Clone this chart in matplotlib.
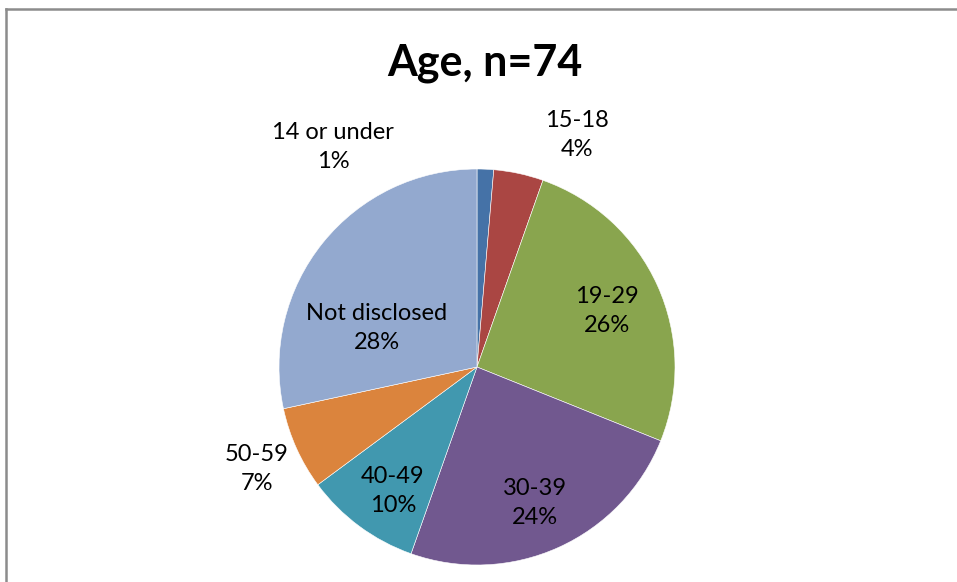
import matplotlib
matplotlib.use("Agg")
import matplotlib.pyplot as plt
from matplotlib.lines import Line2D

# ---- data ----
categories = ["14 or under", "15-18", "19-29", "30-39", "40-49", "50-59", "Not disclosed"]
counts = [1, 3, 19, 18, 7, 5, 21]
pct_labels = ["1%", "4%", "26%", "24%", "10%", "7%", "28%"]
title = "Age, n=74"

# ---- style / layout ----
colors = ["#4572A7", "#AA4643", "#89A54E", "#71588F", "#4198AF", "#DB843D", "#93A9CF"]
# label centres in units of pie radius (layout, not data)
label_pos = [(-0.727, 1.111), (0.505, 1.172), (0.657, 0.283), (0.293, -0.687),
             (-0.424, -0.626), (-1.111, -0.515), (-0.505, 0.197)]

plt.rcParams['font.family'] = ['Lato', 'DejaVu Sans']

W, H = 957, 582
fig = plt.figure(figsize=(W / 100, H / 100), dpi=100)
fig.patch.set_facecolor("white")

cx, cy, r = 477, 367, 198
ax = fig.add_axes([(cx - r) / W, (H - cy - r) / H, 2 * r / W, 2 * r / H])
ax.pie(counts, colors=colors, startangle=90, counterclock=False, radius=1,
       wedgeprops=dict(edgecolor="white", linewidth=0.4))
ax.set_xlim(-1, 1)
ax.set_ylim(-1, 1)
ax.set_aspect("equal")
ax.axis("off")

for cat, pct, (lx, ly) in zip(categories, pct_labels, label_pos):
    ax.text(lx, ly, f"{cat}\n{pct}", ha="center", va="center", fontsize=17,
            linespacing=1.5, color="black", clip_on=False)

fig.text(485 / W, 1 - 63 / H, title, ha="center", va="center", fontsize=31,
         fontweight="bold", color="black")

# chart border (top and left visible)
fig.add_artist(Line2D([6 / W, 1.0], [1 - 9 / H, 1 - 9 / H], color="#8c8c8c", linewidth=1.8,
                      transform=fig.transFigure))
fig.add_artist(Line2D([6 / W, 6 / W], [0.0, 1 - 9 / H], color="#8c8c8c", linewidth=1.8,
                      transform=fig.transFigure))

fig.savefig("out.png", dpi=100, facecolor="white")
